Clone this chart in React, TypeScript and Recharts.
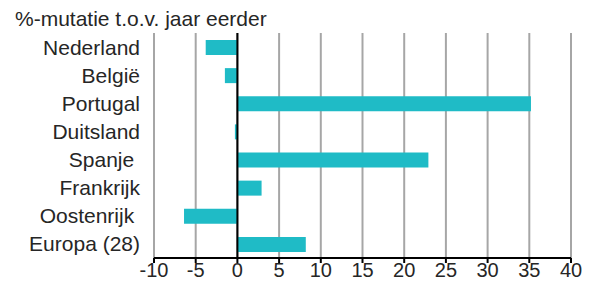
import { Bar, BarChart, CartesianGrid, ReferenceLine, XAxis, YAxis } from "recharts";

const countries = [
  "Nederland",
  "België",
  "Portugal",
  "Duitsland",
  "Spanje\u00A0",
  "Frankrijk",
  "Oostenrijk\u00A0",
  "Europa (28)",
];
const changes = [-3.8, -1.5, 35.2, -0.3, 22.9, 2.9, -6.4, 8.2];
const xTicks = [-10, -5, 0, 5, 10, 15, 20, 25, 30, 35, 40];
const unitLabel = "%-mutatie t.o.v. jaar eerder";

const data = countries.map((name, i) => ({ name, value: changes[i] }));

const font = "'Liberation Sans', Arial, sans-serif";
const textColor = "#262626";

export default function App() {
  return (
    <div style={{ position: "absolute", left: 0, top: 0, width: 594, height: 292, background: "#fff" }}>
      <div
        style={{
          position: "absolute",
          left: 15,
          top: 7,
          fontFamily: font,
          fontSize: 21,
          lineHeight: "23px",
          color: textColor,
          whiteSpace: "nowrap",
        }}
      >
        {unitLabel}
      </div>
      <BarChart
        width={594}
        height={292}
        data={data}
        layout="vertical"
        margin={{ top: 33, right: 23, bottom: 0, left: 0 }}
      >
        <CartesianGrid horizontal={false} stroke="#A6A6A6" strokeWidth={2} />
        <XAxis
          type="number"
          domain={[-10, 40]}
          ticks={xTicks}
          interval={0}
          height={34}
          axisLine={{ stroke: "#000", strokeWidth: 2 }}
          tickLine={{ stroke: "#000", strokeWidth: 2 }}
          tickSize={5}
          tickMargin={0}
          tick={{ fill: textColor, fontSize: 20, fontFamily: font }}
        />
        <YAxis
          type="category"
          dataKey="name"
          width={154}
          interval={0}
          axisLine={false}
          tickLine={false}
          tickMargin={8}
          tick={{ fill: textColor, fontSize: 21, fontFamily: font }}
        />
        <Bar dataKey="value" fill="#1FBBC6" barSize={15} isAnimationActive={false} />
        <ReferenceLine x={0} stroke="#000" strokeWidth={2} />
      </BarChart>
    </div>
  );
}
